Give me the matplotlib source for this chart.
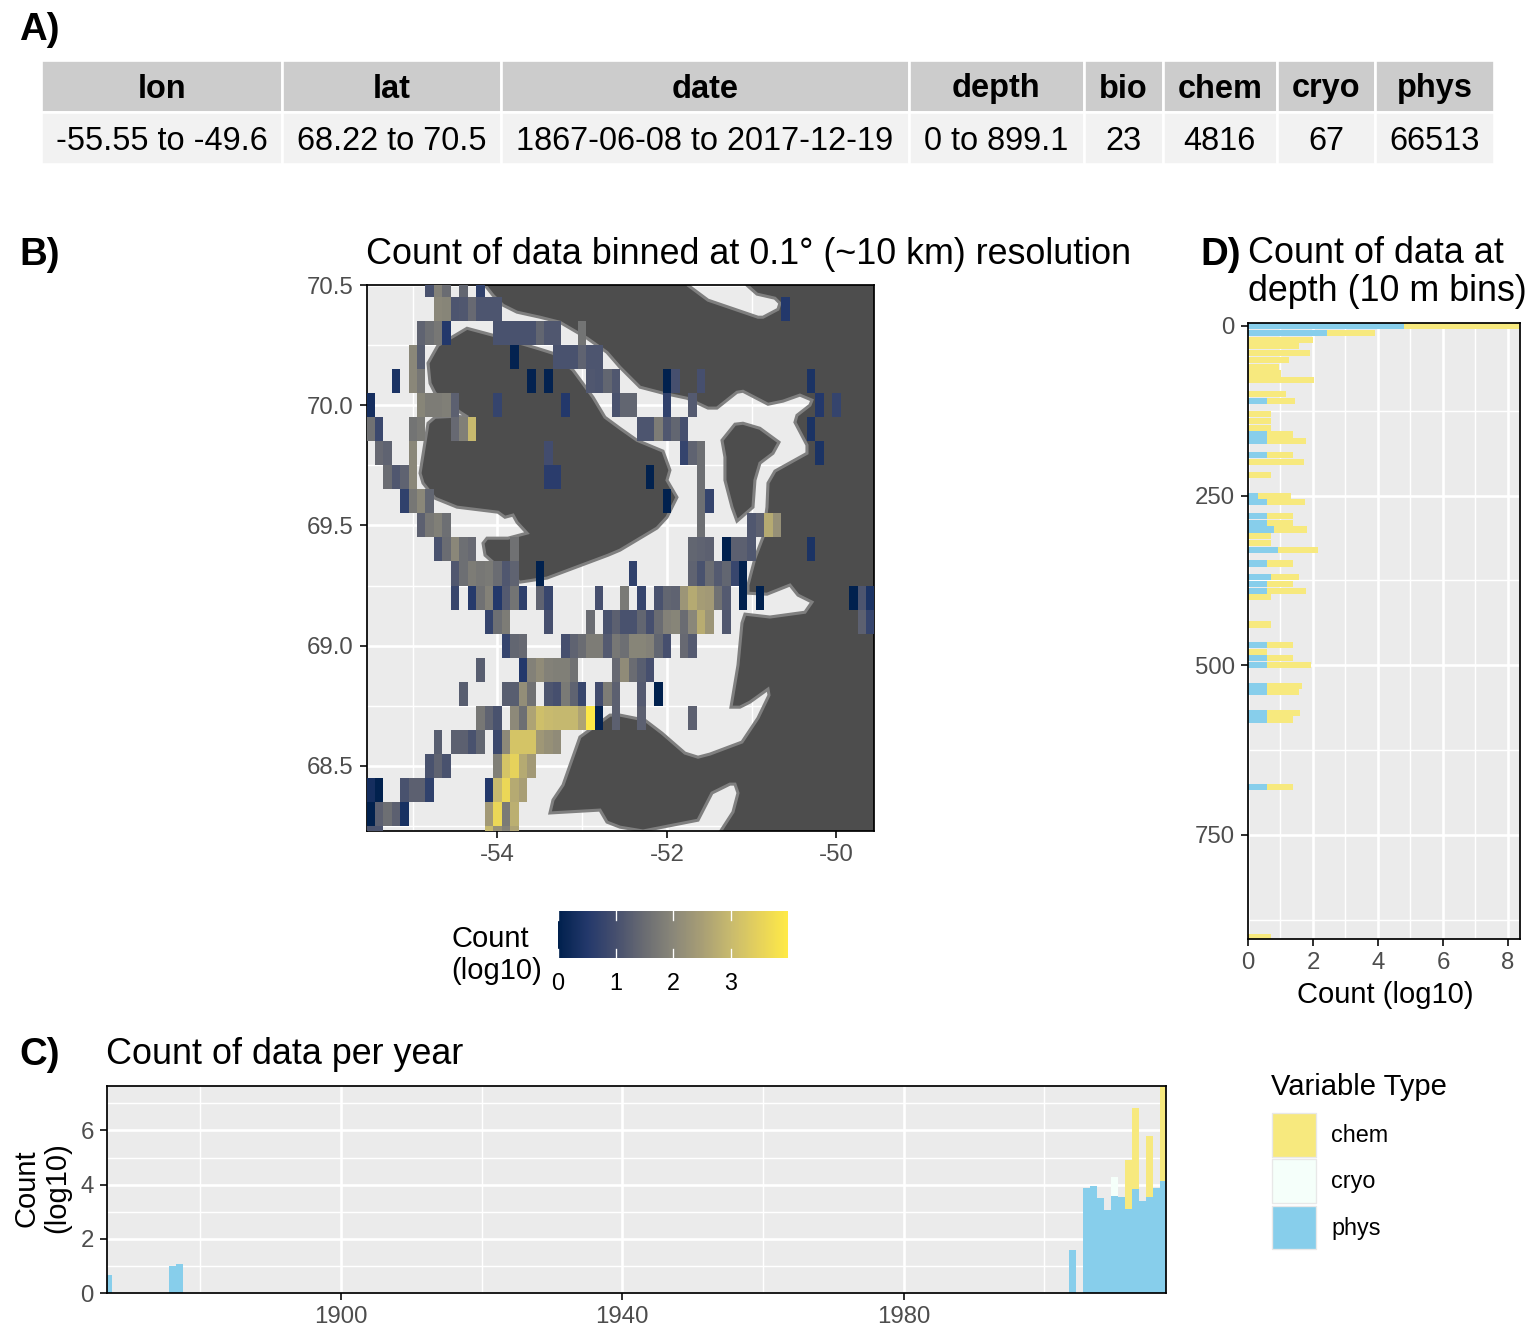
import numpy as np
import matplotlib
matplotlib.use('Agg')
import matplotlib.pyplot as plt
from matplotlib.colors import LinearSegmentedColormap
from matplotlib.patches import Patch, Polygon
from matplotlib.ticker import FixedLocator
from matplotlib.transforms import Affine2D

plt.rcParams['font.family'] = ['Liberation Sans', 'DejaVu Sans']
plt.rcParams['axes.unicode_minus'] = False

W, H = 1536, 1344

# A) summary table
table_cols = ['lon', 'lat', 'date', 'depth', 'bio', 'chem', 'cryo', 'phys']
table_vals = ['-55.55 to -49.6', '68.22 to 70.5', '1867-06-08 to 2017-12-19', '0 to 899.1',
              '23', '4816', '67', '66513']
table_widths = [241, 219, 407, 175, 79, 114, 98, 119]

# B) map tiles, log10 count, column number -> value, one dict per latitude bin
# column n is the bin centred on lon -55.5 + 0.1 * n
lat_705 = {7: 1.05, 8: 1.9, 9: 1.5, 11: 1.4, 13: 0.7}
lat_704 = {8: 2.0, 9: 1.95, 10: 1.1, 11: 1.15, 12: 1.45, 13: 1.1, 14: 1.1, 15: 1.1, 49: 0.5}
lat_703 = {6: 1.35, 7: 1.55, 8: 1.7, 9: 0.5, 15: 1.05, 16: 1.05, 17: 1.05, 18: 1.05, 19: 1.05,
           20: 1.4, 21: 1.15, 22: 1.15, 25: 1.65}
lat_702 = {5: 2.0, 6: 1.25, 17: 0.05, 22: 1.05, 23: 1.05, 24: 1.05, 25: 1.35, 26: 1.1, 27: 1.1}
lat_701 = {3: 0.4, 5: 2.0, 6: 1.7, 19: 0.05, 21: 0.05, 26: 1.15, 27: 1.1, 28: 1.4, 29: 1.15,
           35: 0.02, 36: 1.0, 39: 1.0, 52: 0.4}
lat_700 = {0: 0.3, 6: 1.95, 7: 1.8, 8: 1.8, 9: 1.85, 10: 1.3, 15: 0.75, 23: 0.5, 29: 1.05,
           30: 1.4, 31: 1.4, 35: 0.7, 38: 1.2, 53: 0.5, 55: 0.75}
lat_699 = {0: 1.6, 1: 0.85, 5: 1.65, 6: 1.75, 10: 1.45, 11: 1.85, 12: 3.0, 32: 1.1, 33: 1.1,
           34: 1.8, 35: 1.15, 36: 1.4, 37: 1.0, 52: 0.4}
lat_698 = {1: 1.45, 2: 1.35, 5: 2.0, 21: 0.95, 37: 0.75, 38: 1.35, 39: 1.55, 53: 0.4}
lat_697 = {2: 1.5, 3: 1.15, 4: 1.35, 5: 2.0, 21: 0.6, 22: 0.6, 33: 0.03, 39: 1.55}
lat_696 = {4: 0.7, 5: 1.7, 6: 2.0, 7: 1.4, 35: 0.02, 39: 1.55, 40: 0.75}
lat_695 = {6: 1.3, 7: 1.7, 8: 1.85, 9: 1.55, 39: 1.55, 45: 1.15, 46: 1.3, 47: 2.7, 48: 2.2}
lat_694 = {8: 1.05, 9: 1.5, 10: 2.0, 11: 1.55, 12: 1.45, 17: 1.6, 38: 1.4, 39: 1.35, 40: 1.3,
           42: 0.03, 43: 1.3, 44: 1.3, 45: 1.15, 52: 0.4}
lat_693 = {10: 1.15, 11: 1.55, 12: 1.8, 13: 1.7, 14: 1.75, 15: 1.5, 16: 1.15, 17: 1.35, 20: 0.02,
           31: 0.7, 38: 1.35, 39: 1.05, 40: 1.5, 41: 1.2, 42: 1.4, 43: 0.8, 44: 0.02}
lat_692 = {10: 0.8, 12: 0.55, 13: 1.6, 14: 1.9, 15: 0.5, 16: 1.2, 17: 1.65, 18: 0.65, 20: 1.35,
           21: 0.8, 27: 1.0, 30: 1.75, 32: 0.75, 34: 1.05, 35: 1.4, 36: 1.35, 37: 2.3, 38: 2.7,
           39: 2.45, 40: 2.4, 41: 1.6, 42: 1.2, 44: 0.02, 46: 0.02, 57: 0.02, 58: 1.1, 59: 0.4}
lat_691 = {14: 0.75, 15: 1.55, 16: 1.8, 21: 1.0, 26: 1.5, 28: 1.05, 29: 1.3, 30: 1.05, 31: 1.05,
           32: 1.4, 33: 1.0, 34: 1.5, 35: 1.9, 36: 1.95, 37: 1.5, 38: 2.0, 39: 2.75, 40: 2.3,
           42: 1.15, 58: 1.3, 59: 0.75}
lat_690 = {16: 0.75, 17: 1.4, 18: 1.45, 23: 1.0, 24: 1.35, 25: 1.5, 26: 1.8, 27: 1.8, 28: 1.2,
           29: 1.7, 30: 1.55, 31: 1.95, 32: 1.95, 33: 1.9, 34: 1.4, 35: 1.0, 37: 1.45, 38: 1.2}
lat_689 = {13: 1.25, 18: 0.5, 19: 1.9, 20: 2.1, 21: 1.9, 22: 1.85, 23: 1.85, 24: 1.6, 29: 1.45,
           30: 2.1, 31: 1.5, 32: 1.25, 33: 1.0}
lat_688 = {11: 1.25, 16: 1.25, 17: 1.25, 18: 2.15, 19: 1.6, 21: 1.1, 22: 1.0, 23: 1.75, 24: 1.35,
           25: 0.8, 27: 0.95, 28: 1.8, 29: 1.3, 32: 1.2, 34: 0.02}
lat_687 = {13: 1.7, 14: 1.35, 15: 1.05, 17: 2.05, 18: 1.55, 19: 2.6, 20: 3.1, 21: 3.0, 22: 2.95,
           23: 2.95, 24: 2.95, 25: 2.6, 26: 3.95, 27: 0.05, 29: 1.3, 32: 1.3, 38: 1.3}
lat_686 = {8: 1.25, 10: 1.3, 11: 1.3, 12: 1.05, 13: 1.4, 15: 0.85, 16: 2.05, 17: 3.2, 18: 3.2,
           19: 3.2, 20: 2.35, 21: 2.2, 22: 2.1}
lat_685 = {7: 1.05, 8: 1.35, 9: 1.05, 15: 1.85, 16: 3.2, 17: 3.5, 18: 2.7, 19: 2.4}
lat_684 = {0: 0.3, 1: 0.02, 4: 1.05, 5: 1.3, 6: 1.3, 7: 0.7, 14: 0.5, 15: 3.0, 16: 3.6, 17: 2.7,
           18: 2.5}
lat_683 = {0: 0.02, 1: 1.3, 2: 1.55, 3: 1.3, 4: 0.35, 14: 2.4, 15: 3.6, 16: 1.75, 17: 2.8}
lat_682 = {0: 1.1, 1: 1.1, 14: 2.95, 15: 2.2, 16: 1.9, 17: 2.6}
tile_rows = [lat_682, lat_683, lat_684, lat_685, lat_686, lat_687, lat_688, lat_689, lat_690,
             lat_691, lat_692, lat_693, lat_694, lat_695, lat_696, lat_697, lat_698, lat_699,
             lat_700, lat_701, lat_702, lat_703, lat_704, lat_705]

# coastlines, lon / lat
main_lon = [-54.147, -54.053, -53.935, -53.770, -53.499, -53.263, -52.944, -52.708, -52.555, -52.319,
            -52.047, -51.764, -51.516, -51.410, -51.174, -51.103, -50.808, -50.631, -50.431, -50.289,
            -50.313, -50.466, -50.490, -50.348, -50.348, -50.726, -50.808, -50.820, -50.867, -50.962,
            -51.044, -51.044, -50.820, -50.549, -50.454, -50.289, -50.372, -50.785, -51.080, -51.115,
            -51.162, -51.245, -51.139, -51.021, -50.808, -50.796, -50.926, -51.115, -51.493, -51.634,
            -51.788, -52.059, -52.260, -52.555, -52.673, -53.027, -53.227, -53.345, -53.381, -52.791,
            -52.708, -52.555, -52.283, -51.634, -51.469, -51.257, -51.198, -51.162, -51.221, -51.375,
            -51.45, -49.3, -49.3, -51.10, -51.056, -50.938, -50.726, -50.667, -50.690, -50.867,
            -50.926, -51.516, -51.752, -51.80, -54.20]
main_lat = [70.499, 70.457, 70.416, 70.387, 70.366, 70.345, 70.279, 70.220, 70.158, 70.075,
            70.050, 70.029, 69.988, 69.988, 70.054, 70.058, 70.004, 70.017, 70.042, 70.021,
            70.000, 69.958, 69.929, 69.834, 69.800, 69.726, 69.676, 69.576, 69.451, 69.364,
            69.252, 69.218, 69.214, 69.252, 69.210, 69.181, 69.139, 69.119, 69.131, 69.094,
            68.919, 68.744, 68.744, 68.765, 68.819, 68.794, 68.699, 68.599, 68.549, 68.536,
            68.553, 68.636, 68.690, 68.711, 68.711, 68.620, 68.420, 68.358, 68.304, 68.316,
            68.266, 68.245, 68.229, 68.274, 68.387, 68.424, 68.424, 68.387, 68.308, 68.224,
            68.15, 68.15, 70.6, 70.6, 70.499, 70.462, 70.445, 70.424, 70.399, 70.366,
            70.366, 70.437, 70.499, 70.6, 70.6]
disko_lon = [-54.360, -54.053, -53.534, -53.345, -53.109, -52.873, -52.732, -52.555, -52.354, -52.047,
             -51.965, -52.000, -51.882, -52.000, -52.118, -52.555, -52.696, -53.416, -53.735, -54.053,
             -54.147, -54.171, -54.124, -53.876, -53.652, -53.770, -53.817, -53.912, -53.994, -54.478,
             -54.737, -54.879, -54.914, -54.820, -54.737, -54.501, -54.348, -54.442, -54.737, -54.796,
             -54.820, -54.702, -54.537]
disko_lat = [70.320, 70.291, 70.237, 70.216, 70.146, 70.033, 69.950, 69.904, 69.854, 69.809,
             69.730, 69.688, 69.617, 69.534, 69.489, 69.397, 69.376, 69.281, 69.264, 69.347,
             69.376, 69.426, 69.447, 69.447, 69.468, 69.513, 69.543, 69.534, 69.555, 69.576,
             69.613, 69.676, 69.717, 69.925, 69.950, 69.954, 69.950, 69.971, 70.050, 70.091,
             70.175, 70.249, 70.283]
small_lon = [-51.103, -51.198, -51.351, -51.316, -51.316, -51.233, -51.174, -50.985, -50.962, -50.903,
             -50.749, -50.678, -50.903]
small_lat = [69.925, 69.921, 69.854, 69.784, 69.688, 69.576, 69.518, 69.576, 69.688, 69.759,
             69.800, 69.846, 69.904]

# C) count per year, log10
year_bins = [1867, 1876, 1877, 2004, 2006, 2007, 2008, 2009, 2010, 2011, 2012, 2013, 2014, 2015, 2016, 2017]
year_phys = [0.66, 1.0, 1.07, 1.59, 3.87, 3.95, 3.5, 3.06, 3.58, 3.54, 3.1, 3.84, 3.39, 3.54, 3.89, 4.13]
year_cryo = [0, 0, 0, 0, 0, 0, 0, 0, 0.70, 0, 0, 0, 0, 0, 0, 0]
year_chem = [0, 0, 0, 0, 0, 0, 0, 0, 0, 0, 1.81, 3.0, 0, 2.26, 0, 3.6]

# D) count per depth bin, log10
depth_bins = [0, 10, 20, 30, 40, 50, 60, 70, 80, 100, 110, 130, 140, 150, 160, 170, 190, 200, 220,
              250, 260, 280, 290, 300, 310, 320, 330, 350, 370, 380, 390, 400, 440, 470, 480, 490,
              500, 530, 540, 570, 580, 680, 900]
depth_phys = [4.8, 2.43, 0, 0, 0, 0, 0, 0, 0, 0, 0.6, 0, 0, 0, 0.6, 0.6, 0.6, 0, 0,
              0.3, 0.6, 0.6, 0.6, 0.8, 0, 0, 0.92, 0.6, 0.71, 0.6, 0.6, 0, 0, 0.6, 0, 0.6,
              0.6, 0.6, 0.6, 0.6, 0.6, 0.6, 0]
depth_chem = [3.57, 1.48, 2.0, 1.57, 1.91, 1.26, 0.95, 1.02, 2.03, 1.17, 0.85, 0.71, 0.71, 0.71, 0.78, 1.18, 0.78, 1.72, 0.71,
              1.02, 1.15, 0.78, 0.78, 1.02, 0.71, 0.71, 1.23, 0.78, 0.86, 0.78, 1.18, 0.71, 0.71, 0.78, 0.6, 0.78,
              1.34, 1.06, 0.97, 1.0, 0.78, 0.78, 0.71]

chem_col = '#F7E97E'
cryo_col = '#F5FFFA'
phys_col = '#87CEEB'
cbar_max = 3.99
tile_cmap = LinearSegmentedColormap.from_list('count', [(0, '#00204D'), (0.5 / cbar_max, '#23386B'),
                                                        (1 / cbar_max, '#464F6E'), (1.5 / cbar_max, '#6A6C72'),
                                                        (2 / cbar_max, '#8A8779'), (2.5 / cbar_max, '#A89E75'),
                                                        (3 / cbar_max, '#C8BA6E'), (3.5 / cbar_max, '#E6D25B'),
                                                        (1, '#FFEA46')])

fig = plt.figure(figsize=(W / 96, H / 96), dpi=96)


def panel(left, top, right, bottom):
    return fig.add_axes([left / W, 1 - bottom / H, (right - left) / W, (bottom - top) / H])


def label(x, y, s, **kw):
    kw.setdefault('va', 'center')
    kw.setdefault('ha', 'left')
    kw.setdefault('fontsize', 26.87)
    kw.setdefault('color', 'black')
    fig.text(x / W, 1 - y / H, s, **kw)


def gg_style(ax, xmaj, xmin, ymaj, ymin):
    ax.set_facecolor('#EBEBEB')
    ax.set_axisbelow(True)
    ax.set_xticks(xmaj)
    ax.set_yticks(ymaj)
    ax.xaxis.set_minor_locator(FixedLocator(xmin))
    ax.yaxis.set_minor_locator(FixedLocator(ymin))
    ax.grid(which='major', color='white', lw=2.0)
    ax.grid(which='minor', color='white', lw=1.1)
    ax.tick_params(which='minor', length=0)
    ax.tick_params(which='major', length=5.5, width=1.5, color='#333333', labelcolor='#4D4D4D', labelsize=18, pad=4.5)
    for s in ax.spines.values():
        s.set_color('black')
        s.set_linewidth(1.3)


# A
tax = panel(41, 60, 1494, 164)
tax.axis('off')
tb = tax.table(cellText=[table_vals], colLabels=table_cols, colWidths=[w / sum(table_widths) for w in table_widths],
               bbox=[0, 0, 1, 1], cellLoc='center')
tb.auto_set_font_size(False)
for (r, c), cell in tb.get_celld().items():
    cell.set_edgecolor('white')
    cell.set_linewidth(2)
    cell.set_facecolor('#CCCCCC' if r == 0 else '#F2F2F2')
    cell.get_text().set_fontsize(24.4)
    cell.get_text().set_transform(Affine2D().translate(0, -3))
    if r == 0:
        cell.get_text().set_fontweight('bold')

# B
ax = panel(367, 285, 874, 831)
gg_style(ax, [-54, -52, -50], [-55, -53, -51], [68.5, 69.0, 69.5, 70.0, 70.5], [68.25, 68.75, 69.25, 69.75, 70.25])
for lons, lats in [(main_lon, main_lat), (disko_lon, disko_lat), (small_lon, small_lat)]:
    ax.add_patch(Polygon(np.column_stack([lons, lats]), closed=True, facecolor='#4D4D4D', edgecolor='#7F7F7F',
                         lw=2.3, zorder=2))
grid = np.full((24, 60), np.nan)
for i, row in enumerate(tile_rows):
    for col, val in row.items():
        grid[i, col] = val
lon_edges = -55.55 + 0.1 * np.arange(61)
lat_edges = 68.15 + 0.1 * np.arange(25)
mesh = ax.pcolormesh(lon_edges, lat_edges, np.ma.masked_invalid(grid), cmap=tile_cmap, vmin=0, vmax=cbar_max,
                     zorder=3, antialiased=False, linewidth=0)
ax.set_xlim(-55.54, -49.557)
ax.set_ylim(68.229, 70.5)
ax.set_xticklabels(['-54', '-52', '-50'])
ax.set_yticklabels(['68.5', '69.0', '69.5', '70.0', '70.5'])

# colour bar
cax = panel(558, 911, 788, 958)
cb = fig.colorbar(mesh, cax=cax, orientation='horizontal', ticks=[0, 1, 2, 3])
cb.outline.set_visible(False)
cax.tick_params(length=0, labelsize=17.5, labelcolor='black', pad=10.5)
for v in [0, 1, 2, 3]:
    cax.plot([v, v], [0, 0.2], color='white', lw=1, transform=cax.get_xaxis_transform(), clip_on=False)
    cax.plot([v, v], [0.8, 1], color='white', lw=1, transform=cax.get_xaxis_transform(), clip_on=False)
label(451.5, 955, 'Count\n(log10)', fontsize=21.8, linespacing=1.15)

# C
ax = panel(107, 1086, 1166, 1293)
gg_style(ax, [1900, 1940, 1980], [1880, 1920, 1960, 2000], [0, 2, 4, 6], [1, 3, 5, 7])
years = np.array(year_bins)
ax.bar(years, year_phys, width=1, color=phys_col, zorder=2)
ax.bar(years, year_cryo, width=1, bottom=year_phys, color=cryo_col, zorder=2)
ax.bar(years, year_chem, width=1, bottom=np.add(year_phys, year_cryo), color=chem_col, zorder=2)
ax.set_xlim(1866.75, 2017.3)
ax.set_ylim(0, 7.64)

# D
ax = panel(1248, 323, 1520, 939)
gg_style(ax, [0, 2, 4, 6, 8], [1, 3, 5, 7], [0, 250, 500, 750], [125, 375, 625, 875])
ax.barh(depth_bins, depth_phys, height=9, color=phys_col, zorder=2)
ax.barh(depth_bins, depth_chem, height=9, left=depth_phys, color=chem_col, zorder=2)
ax.set_xlim(0, 8.37)
ax.set_ylim(903.5, -4.4)

# text
label(19, 30, 'A)', fontweight='bold', fontsize=28.8)
label(19, 255, 'B)', fontweight='bold', fontsize=28.8)
label(19, 1055, 'C)', fontweight='bold', fontsize=28.8)
label(1200, 255, 'D)', fontweight='bold', fontsize=28.8)
label(366, 255, 'Count of data binned at 0.1° (~10 km) resolution')
label(1248, 272.5, 'Count of data at\ndepth (10 m bins)', linespacing=1.08)
label(106, 1055, 'Count of data per year')
label(1385, 995, 'Count (log10)', ha='center', fontsize=21.8)
label(42, 1188, 'Count\n(log10)', ha='center', rotation=90, fontsize=21.8, linespacing=1.15, multialignment='center')
label(1271, 1087, 'Variable Type', fontsize=21.8)

# legend
fig.legend(handles=[Patch(facecolor=chem_col, edgecolor='#E8E8E8', label='chem'),
                    Patch(facecolor=cryo_col, edgecolor='#E8E8E8', label='cryo'),
                    Patch(facecolor=phys_col, edgecolor='#E8E8E8', label='phys')],
           fontsize=17.5, loc='upper left', bbox_to_anchor=(1272 / W, 1 - 1113 / H), frameon=False,
           borderpad=0, borderaxespad=0, handlelength=1.89, handleheight=2.52, labelspacing=0.1,
           handletextpad=0.65, alignment='left')

fig.savefig('out.png', dpi=96)
